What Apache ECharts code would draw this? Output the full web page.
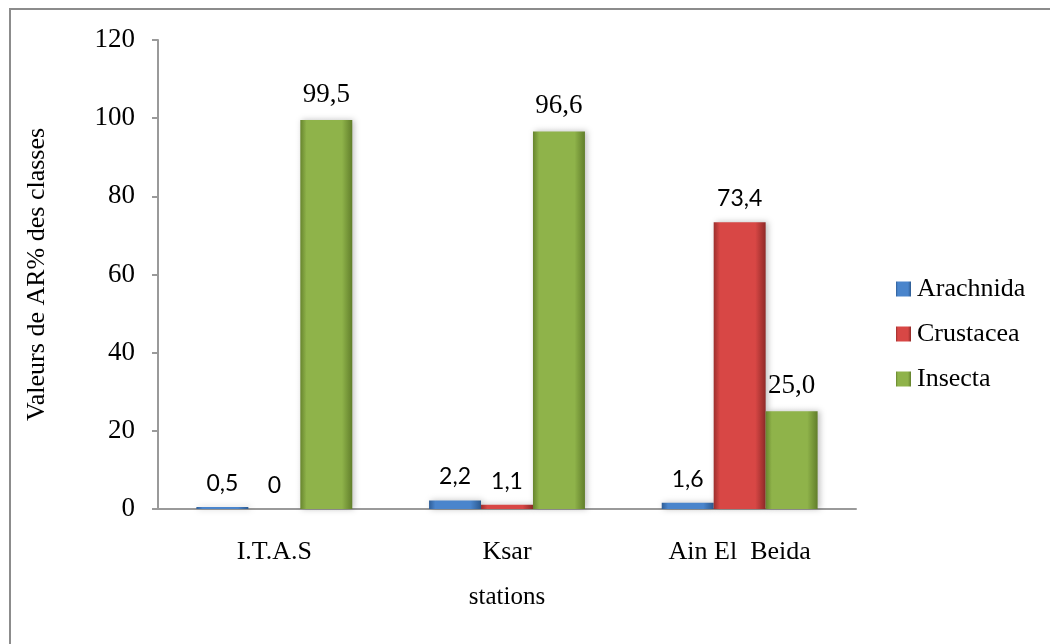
<!DOCTYPE html>
<html>
<head>
<meta charset="utf-8">
<script src="https://cdn.jsdelivr.net/npm/echarts@6/dist/echarts.min.js"></script>
<style>
  html, body { margin: 0; padding: 0; background: #fff; }
  #chart { width: 1050px; height: 644px; }
</style>
</head>
<body>
<div id="chart"></div>
<script>
// Stations and relative abundance (AR%) per class
const stations = ['I.T.A.S', 'Ksar', 'Ain El  Beida'];
const arachnida = [0.5, 2.2, 1.6];
const crustacea = [0, 1.1, 73.4];
const insecta = [99.5, 96.6, 25.0];
const yTicks = [0, 20, 40, 60, 80, 100, 120];

const serif = '"Liberation Serif", "Times New Roman", serif';
const sans = '"Lato", "Noto Sans", sans-serif';

function fmt(v) {
  return v === 0 ? '0' : v.toFixed(1).replace('.', ',');
}

// Horizontal shading so the bars read as slightly rounded columns
function shade(edge, mid, edge2) {
  return {
    type: 'linear', x: 0, y: 0, x2: 1, y2: 0,
    colorStops: [
      { offset: 0, color: edge },
      { offset: 0.12, color: mid },
      { offset: 0.8, color: mid },
      { offset: 1, color: edge2 }
    ]
  };
}

function barSeries(name, data, fill, labelFont, labelSize) {
  return {
    name: name,
    type: 'bar',
    data: data,
    barGap: '0%',
    barCategoryGap: '33%',
    itemStyle: {
      color: fill,
      shadowColor: 'rgba(0,0,0,0.25)',
      shadowBlur: 6,
      shadowOffsetX: 2
    },
    label: {
      show: true,
      position: 'top',
      distance: 12,
      fontFamily: labelFont,
      fontSize: labelSize,
      color: '#000',
      formatter: p => fmt(p.value)
    }
  };
}

const chart = echarts.init(document.getElementById('chart'), null, { renderer: 'canvas' });

chart.setOption({
  backgroundColor: '#ffffff',
  animation: false,
  graphic: [{
    type: 'rect',
    shape: { x: 10, y: 9, width: 1100, height: 700 },
    style: { fill: 'none', stroke: '#8c8c8c', lineWidth: 2 },
    silent: true
  }],
  grid: { left: 158, right: 194, top: 40, bottom: 135 },
  legend: {
    orient: 'vertical',
    left: 891,
    top: 271,
    itemWidth: 15,
    itemHeight: 15,
    itemGap: 19,
    itemStyle: { borderWidth: 0 },
    icon: 'rect',
    textStyle: { fontFamily: serif, fontSize: 26, color: '#000', padding: [0, 0, 0, 1] },
    data: ['Arachnida', 'Crustacea', 'Insecta']
  },
  xAxis: {
    type: 'category',
    data: stations,
    name: 'stations',
    nameLocation: 'middle',
    nameGap: 76,
    nameTextStyle: { fontFamily: serif, fontSize: 25, color: '#000' },
    axisLine: { lineStyle: { color: '#9a9a9a', width: 2 } },
    axisTick: { show: false },
    axisLabel: { fontFamily: serif, fontSize: 26, color: '#000', margin: 30 }
  },
  yAxis: {
    type: 'value',
    min: yTicks[0],
    max: yTicks[yTicks.length - 1],
    interval: yTicks[1] - yTicks[0],
    name: 'Valeurs de AR% des classes',
    nameLocation: 'middle',
    nameGap: 108,
    nameRotate: 90,
    nameTextStyle: { fontFamily: serif, fontSize: 26, color: '#000' },
    axisLine: { show: true, lineStyle: { color: '#9a9a9a', width: 2 } },
    axisTick: { show: true, inside: false, length: 6, lineStyle: { color: '#9a9a9a', width: 2 } },
    splitLine: { show: false },
    axisLabel: { fontFamily: serif, fontSize: 27, color: '#000', margin: 23 }
  },
  series: [
    barSeries('Arachnida', arachnida, shade('#2f5e97', '#4a85cc', '#2c5a90'), sans, 23),
    barSeries('Crustacea', crustacea, shade('#9c2f2d', '#d84745', '#8f2a28'), sans, 23),
    barSeries('Insecta', insecta, shade('#67852e', '#8fb34a', '#617e2b'), serif, 27)
  ]
});
</script>
</body>
</html>
